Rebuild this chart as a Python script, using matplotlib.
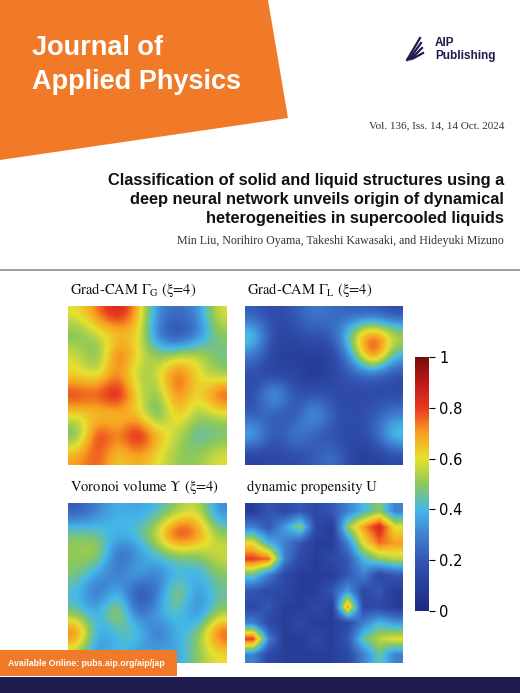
import numpy as np
import matplotlib
matplotlib.use('Agg')
import matplotlib.pyplot as plt
from matplotlib.patches import Polygon, Rectangle
from matplotlib.colors import LinearSegmentedColormap

W, H = 520, 693
ORANGE = "#f07a28"
NAVY = "#1e1b4d"

# map values (rows top->bottom)
grad_g = [
    [0.60, 0.75, 0.90, 0.70, 0.30, 0.25, 0.30, 0.60],
    [0.45, 0.55, 0.60, 0.65, 0.25, 0.10, 0.25, 0.50],
    [0.60, 0.40, 0.85, 0.60, 0.50, 0.55, 0.60, 0.45],
    [0.60, 0.55, 0.75, 0.50, 0.55, 0.85, 0.60, 0.50],
    [0.85, 0.80, 0.95, 0.60, 0.45, 0.80, 0.55, 0.85],
    [0.60, 0.60, 0.60, 0.65, 0.35, 0.70, 0.50, 0.55],
    [0.40, 0.90, 0.70, 0.95, 0.70, 0.55, 0.40, 0.45],
    [0.70, 0.80, 0.60, 0.70, 0.60, 0.50, 0.50, 0.60],
]
grad_l = [
    [0.20, 0.15, 0.20, 0.30, 0.25, 0.20, 0.20, 0.15],
    [0.50, 0.10, 0.15, 0.20, 0.20, 0.60, 0.85, 0.60],
    [0.30, 0.10, 0.10, 0.10, 0.10, 0.40, 0.95, 0.40],
    [0.15, 0.10, 0.15, 0.05, 0.15, 0.20, 0.20, 0.15],
    [0.15, 0.50, 0.15, 0.20, 0.15, 0.15, 0.15, 0.15],
    [0.20, 0.20, 0.15, 0.45, 0.20, 0.15, 0.20, 0.30],
    [0.45, 0.15, 0.35, 0.20, 0.15, 0.15, 0.20, 0.50],
    [0.10, 0.15, 0.15, 0.20, 0.30, 0.10, 0.10, 0.15],
]
voronoi = [
    [0.20, 0.30, 0.40, 0.35, 0.40, 0.50, 0.60, 0.30],
    [0.50, 0.45, 0.40, 0.45, 0.60, 0.95, 0.80, 0.50],
    [0.50, 0.60, 0.20, 0.30, 0.45, 0.50, 0.50, 0.60],
    [0.50, 0.35, 0.25, 0.45, 0.25, 0.40, 0.35, 0.50],
    [0.40, 0.20, 0.45, 0.10, 0.25, 0.60, 0.30, 0.45],
    [0.45, 0.35, 0.65, 0.20, 0.40, 0.45, 0.25, 0.50],
    [0.85, 0.30, 0.40, 0.50, 0.20, 0.40, 0.45, 0.85],
    [0.50, 0.30, 0.45, 0.30, 0.40, 0.35, 0.50, 0.60],
]
propensity = [
    [0.10, 0.20, 0.15, 0.20, 0.15, 0.20, 0.30, 0.40, 0.50, 0.30],
    [0.30, 0.20, 0.35, 0.50, 0.15, 0.10, 0.50, 0.70, 0.85, 0.60],
    [0.60, 0.40, 0.30, 0.20, 0.10, 0.10, 0.30, 0.60, 0.75, 0.70],
    [0.80, 0.75, 0.30, 0.15, 0.10, 0.15, 0.20, 0.40, 0.50, 0.55],
    [0.45, 0.30, 0.15, 0.10, 0.10, 0.10, 0.20, 0.30, 0.15, 0.20],
    [0.20, 0.15, 0.15, 0.10, 0.10, 0.20, 0.35, 0.15, 0.20, 0.10],
    [0.15, 0.20, 0.10, 0.10, 0.15, 0.10, 0.70, 0.15, 0.15, 0.10],
    [0.30, 0.15, 0.10, 0.15, 0.10, 0.10, 0.15, 0.30, 0.40, 0.35],
    [0.80, 0.30, 0.10, 0.10, 0.15, 0.10, 0.20, 0.45, 0.55, 0.60],
    [0.30, 0.15, 0.10, 0.10, 0.10, 0.10, 0.15, 0.30, 0.45, 0.30],
]
cbar_ticks = [0, 0.2, 0.4, 0.6, 0.8, 1]
cbar_labels = ["0", "0.2", "0.4", "0.6", "0.8", "1"]

cmap = LinearSegmentedColormap.from_list("cover", [
    (0.0, "#1c2a7c"), (0.18, "#3150b0"), (0.3, "#3f80d0"), (0.4, "#45b8e8"),
    (0.5, "#8cc85a"), (0.6, "#e8e030"), (0.7, "#f8a020"), (0.8, "#e83a20"),
    (0.9, "#c01818"), (1.0, "#7a0a0a")])

fig = plt.figure(figsize=(W / 100, H / 100), dpi=100)
bg = fig.add_axes([0, 0, 1, 1])
bg.set_xlim(0, W)
bg.set_ylim(H, 0)
bg.axis("off")

def px_axes(x0, y0, x1, y1):
    return fig.add_axes([x0 / W, 1 - y1 / H, (x1 - x0) / W, (y1 - y0) / H])

# header
bg.add_patch(Polygon([(0, 0), (268, 0), (288, 118), (0, 160)], color=ORANGE, lw=0))
bg.text(32, 48, "Journal of", color="white", fontsize=19.5, fontweight="bold", family="Liberation Sans", va="center")
bg.text(32, 82, "Applied Physics", color="white", fontsize=19.5, fontweight="bold", family="Liberation Sans", va="center")
for i in range(4):
    bg.plot([407 + i * 2, 420 + i * 1], [60 - i * 0.5, 38 + i * 5], color=NAVY, lw=1.6)
bg.text(435, 43, "AIP", color=NAVY, fontsize=8.5, fontweight="bold", family="Liberation Sans", va="center")
bg.text(435, 56, "Publishing", color=NAVY, fontsize=8.5, fontweight="bold", family="Liberation Sans", va="center")
bg.text(504, 126, "Vol. 136, Iss. 14, 14 Oct. 2024", color="#333333", fontsize=8, family="Liberation Serif", ha="right", va="center")
for i, line in enumerate(["Classification of solid and liquid structures using a",
                          "deep neural network unveils origin of dynamical",
                          "heterogeneities in supercooled liquids"]):
    bg.text(504, 180 + i * 19.5, line, color="#111111", fontsize=11.8, fontweight="bold",
            family="Liberation Sans", ha="right", va="center")
bg.text(504, 241, "Min Liu, Norihiro Oyama, Takeshi Kawasaki, and Hideyuki Mizuno",
        color="#333333", fontsize=8.6, family="Liberation Serif", ha="right", va="center")

# figure frame
bg.plot([0, W], [270, 270], color="#8c8c8c", lw=1.2)

plt.rcParams["mathtext.fontset"] = "stix"
panels = [
    (grad_g, (68, 306, 227, 465), r"Grad-CAM $\Gamma_{\rm G}$ (ξ=4)", "bicubic"),
    (grad_l, (245, 306, 403, 465), r"Grad-CAM $\Gamma_{\rm L}$ (ξ=4)", "bicubic"),
    (voronoi, (68, 503, 227, 663), r"Voronoi volume $\Upsilon$ (ξ=4)", "bicubic"),
    (propensity, (245, 503, 403, 663), "dynamic propensity U", "bilinear"),
]
for data, (x0, y0, x1, y1), title, interp in panels:
    ax = px_axes(x0, y0, x1, y1)
    im = ax.imshow(np.array(data), cmap=cmap, vmin=0, vmax=1, interpolation=interp, aspect="auto")
    ax.axis("off")
    bg.text(x0 + 2, y0 - 16, title, fontsize=10.5, family="STIXGeneral", va="center", color="#111111")

cax = px_axes(415, 357, 429, 611)
cb = fig.colorbar(im, cax=cax, ticks=cbar_ticks)
cb.ax.set_yticklabels(cbar_labels)
cb.ax.tick_params(labelsize=10.5, length=4, width=0.8)
cb.outline.set_linewidth(0)

# footer on top of everything
fg = fig.add_axes([0, 0, 1, 1])
fg.set_xlim(0, W)
fg.set_ylim(H, 0)
fg.axis("off")
fg.add_patch(Rectangle((0, 650), 177, 26, color=ORANGE, lw=0))
fg.text(8, 663, "Available Online: pubs.aip.org/aip/jap", color="white", fontsize=6.3,
        fontweight="bold", family="Liberation Sans", va="center")
fg.add_patch(Rectangle((0, 677), W, 16, color=NAVY, lw=0))

fig.savefig("out.png", dpi=100)
